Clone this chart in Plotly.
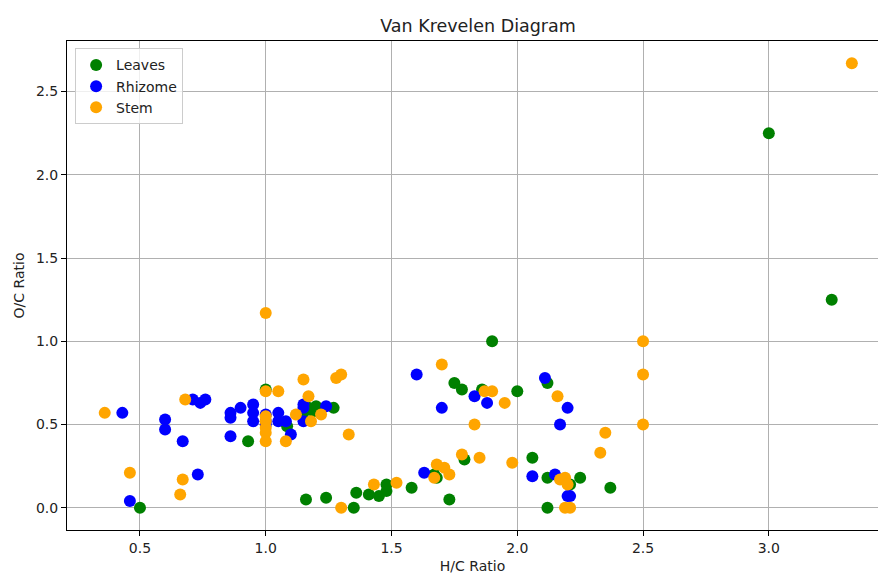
import plotly.graph_objects as go

# Leaves
leaves_hc = [3.0, 3.25, 0.5, 1.9, 0.93, 1.0, 1.16, 1.24, 1.27, 1.17, 1.19, 1.15, 1.2, 1.085,
             1.35, 1.36, 1.41, 1.45, 1.48, 1.48, 1.58, 1.67, 1.68, 1.73, 1.75, 1.78, 1.79,
             1.86, 2.0, 2.06, 2.12, 2.12, 2.12, 2.21, 2.25, 2.37]
leaves_oc = [2.25, 1.25, 0.0, 1.0, 0.40, 0.71, 0.05, 0.06, 0.60, 0.60, 0.58, 0.57, 0.61, 0.49,
             0.0, 0.09, 0.08, 0.07, 0.14, 0.10, 0.12, 0.20, 0.18, 0.05, 0.75, 0.71, 0.29,
             0.71, 0.70, 0.30, 0.75, 0.18, 0.0, 0.14, 0.18, 0.12]

# Rhizome
rhizome_hc = [0.43, 0.46, 0.6, 0.6, 0.67, 0.71, 0.74, 0.76, 0.73, 0.86, 0.86, 0.86, 0.9,
              0.95, 0.95, 0.95, 1.0, 1.0, 1.0, 1.05, 1.05, 1.08, 1.1, 1.15, 1.15, 1.15, 1.24,
              1.6, 1.63, 1.7, 1.83, 1.88, 2.06, 2.11, 2.15, 2.17, 2.2, 2.2, 2.21]
rhizome_oc = [0.57, 0.04, 0.53, 0.47, 0.40, 0.65, 0.63, 0.65, 0.20, 0.57, 0.54, 0.43, 0.60,
              0.62, 0.57, 0.52, 0.56, 0.52, 0.50, 0.57, 0.52, 0.52, 0.44, 0.62, 0.60, 0.52, 0.61,
              0.80, 0.21, 0.60, 0.67, 0.63, 0.19, 0.78, 0.20, 0.50, 0.60, 0.07, 0.07]

# Stem
stem_hc = [0.36, 0.46, 0.66, 0.67, 0.68, 1.0, 1.0, 1.0, 1.0, 1.0, 1.0, 1.0, 1.05, 1.08,
           1.12, 1.15, 1.17, 1.18, 1.22, 1.28, 1.3, 1.3, 1.33, 1.43, 1.52, 1.67, 1.68, 1.7,
           1.71, 1.73, 1.78, 1.83, 1.85, 1.87, 1.9, 1.95, 1.98, 2.16, 2.17, 2.19, 2.2, 2.19,
           2.21, 2.33, 2.35, 2.5, 2.5, 2.5, 3.33]
stem_oc = [0.57, 0.21, 0.08, 0.17, 0.65, 1.17, 0.70, 0.55, 0.52, 0.48, 0.45, 0.40, 0.70, 0.40,
           0.56, 0.77, 0.67, 0.52, 0.56, 0.78, 0.80, 0.0, 0.44, 0.14, 0.15, 0.18, 0.26, 0.86,
           0.24, 0.20, 0.32, 0.50, 0.30, 0.70, 0.70, 0.63, 0.27, 0.67, 0.17, 0.18, 0.14, 0.0,
           0.0, 0.33, 0.45, 1.0, 0.80, 0.50, 2.67]

series = [("Leaves", leaves_hc, leaves_oc, "#008000"),
          ("Rhizome", rhizome_hc, rhizome_oc, "#0000ff"),
          ("Stem", stem_hc, stem_oc, "#ffa500")]

fig = go.Figure()
for name, xs, ys, col in series:
    fig.add_trace(go.Scatter(x=xs, y=ys, mode="markers", name=name,
                             marker=dict(color=col, size=12, line=dict(width=0))))

font = "DejaVu Sans"
axis_common = dict(showline=True, linecolor="black", linewidth=1, mirror=True,
                   ticks="outside", ticklen=5, tickcolor="black",
                   showgrid=True, gridcolor="#b0b0b0", gridwidth=1, zeroline=False,
                   tickfont=dict(family=font, size=14, color="#222"))

fig.update_layout(
    width=878, height=574,
    margin=dict(l=67, r=0, t=41, b=44),
    plot_bgcolor="white", paper_bgcolor="white",
    font=dict(family=font, size=14, color="#222"),
    title=dict(text="Van Krevelen Diagram", x=478/878, xanchor="center",
               y=1-26/574, yanchor="middle", font=dict(family=font, size=17.5, color="#222")),
    xaxis=dict(range=[0.21, 3.434], tickvals=[0.5, 1.0, 1.5, 2.0, 2.5, 3.0],
               ticktext=["0.5", "1.0", "1.5", "2.0", "2.5", "3.0"],
               title=dict(text="H/C Ratio", standoff=7, font=dict(family=font, size=14)),
               **axis_common),
    yaxis=dict(range=[-0.1335, 2.8035], tickvals=[0.0, 0.5, 1.0, 1.5, 2.0, 2.5],
               ticktext=["0.0", "0.5", "1.0", "1.5", "2.0", "2.5"],
               title=dict(text="O/C Ratio", standoff=8, font=dict(family=font, size=14)),
               **axis_common),
    legend=dict(x=0.01, y=0.985, xanchor="left", yanchor="top",
                bgcolor="rgba(255,255,255,0.8)", bordercolor="#cccccc", borderwidth=1,
                font=dict(family=font, size=14), itemsizing="constant", tracegroupgap=2),
    showlegend=True,
)

fig.write_html("out.html")
